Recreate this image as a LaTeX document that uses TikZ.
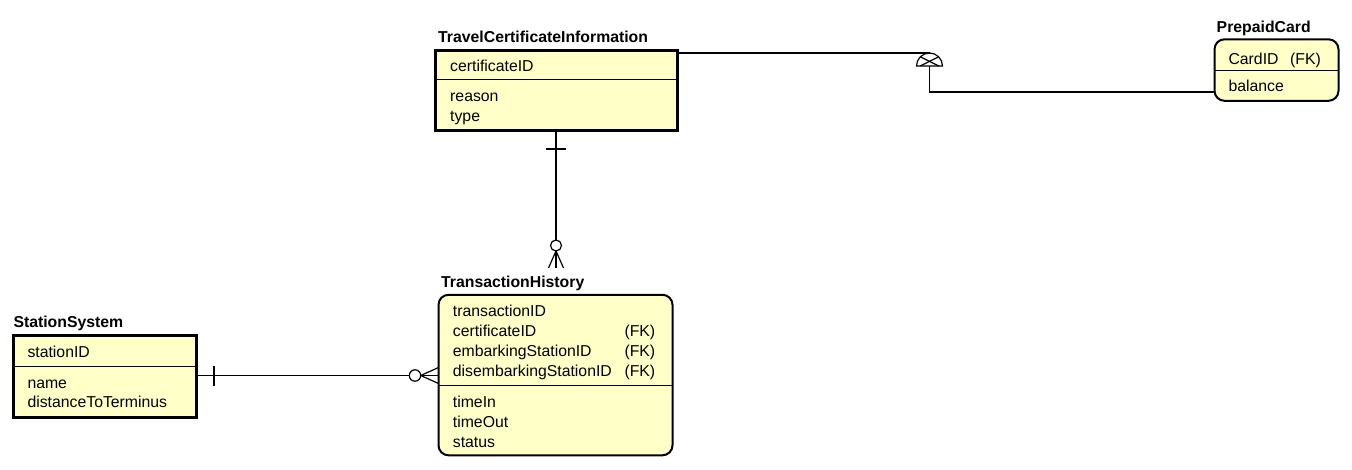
\documentclass[tikz,border=0pt]{standalone}
\usepackage{fontspec}
\setmainfont{Liberation Sans}
\usetikzlibrary{calc}
\definecolor{entfill}{HTML}{FFFFC8}
\newcommand{\erfs}{\fontsize{15.8}{18}\selectfont}
\tikzset{
  ent/.style={draw=black, fill=entfill, anchor=north west, inner sep=0pt, outer sep=0pt},
  entsq/.style={ent, line width=3pt},
  entrd/.style={ent, line width=2pt, rounded corners=10pt},
  attr/.style={anchor=base west, inner sep=0pt, font=\erfs},
  etitle/.style={anchor=base west, inner sep=0pt, font=\erfs\bfseries},
  divline/.style={line width=1pt},
  conn/.style={line width=1.2pt},
}
\begin{document}
\begin{tikzpicture}[x=1pt,y=-1pt]
\useasboundingbox (0,0) rectangle (1352,469);
\fill[white] (0,0) rectangle (1352,469);

% ---------- TravelCertificateInformation ----------
\node[etitle] (tcititle) at (438,42.5) {TravelCertificateInformation};
\node[entsq, minimum width=241.5pt, minimum height=80pt] (tci) at (435.5,50) {};
\coordinate (tcidiv) at (0,79);
\draw[divline] (tci.west |- tcidiv) -- (tci.east |- tcidiv);
\node[attr] (tci1) at (450,71.5) {certificateID};
\node[attr] (tci2) at (450,101.5) {reason};
\node[attr] (tci3) at (450,121) {type};

% ---------- PrepaidCard ----------
\node[etitle] (pctitle) at (1216.5,32.7) {PrepaidCard};
\node[entrd, minimum width=124pt, minimum height=61.5pt] (pc) at (1214.5,39.3) {};
\coordinate (pcdiv) at (0,70.3);
\draw[divline] (pc.west |- pcdiv) -- (pc.east |- pcdiv);
\node[attr] (pc1) at (1228.3,64.3) {CardID};
\node[attr] (pc1fk) at (1290,64.3) {(FK)};
\node[attr] (pc2) at (1228.3,91.7) {balance};

% ---------- TransactionHistory ----------
\node[etitle] (thtitle) at (441,287) {TransactionHistory};
\node[entrd, minimum width=234pt, minimum height=160.5pt] (th) at (438.5,294.8) {};
\coordinate (thdiv) at (0,385.7);
\draw[divline] (th.west |- thdiv) -- (th.east |- thdiv);
\node[attr] (th1) at (452.7,316.7) {transactionID};
\node[attr] (th2) at (452.7,336.5) {certificateID};
\node[attr] (th3) at (452.7,356.3) {embarkingStationID};
\node[attr] (th4) at (452.7,376.1) {disembarkingStationID};
\node[attr] (th2fk) at (624.3,336.5) {(FK)};
\node[attr] (th3fk) at (624.3,356.3) {(FK)};
\node[attr] (th4fk) at (624.3,376.1) {(FK)};
\node[attr] (th5) at (452.7,407.3) {timeIn};
\node[attr] (th6) at (452.7,427.2) {timeOut};
\node[attr] (th7) at (452.7,447) {status};

% ---------- StationSystem ----------
\node[etitle] (sstitle) at (13.3,327) {StationSystem};
\node[entsq, minimum width=182.7pt, minimum height=82pt] (ss) at (13.3,335.7) {};
\coordinate (ssdiv) at (0,366);
\draw[divline] (ss.west |- ssdiv) -- (ss.east |- ssdiv);
\node[attr] (ss1) at (27.3,357.7) {stationID};
\node[attr] (ss2) at (27.3,388.3) {name};
\node[attr] (ss3) at (27.3,407.9) {distanceToTerminus};

% ---------- TCI -- PrepaidCard (subtype) ----------
\coordinate (subc) at (929.5,66);
\coordinate (subtop) at (929.5,53);
\coordinate (subbend) at (929.5,92);
\draw[conn] (tci.east |- subtop) -- (subtop);
\draw[conn] ($(subc)+(-13,0)$) arc (180:360:13) -- cycle;
\draw[conn] ($(subc)+(-9.2,-9.2)$) -- ($(subc)+(9.2,0)$);
\draw[conn] ($(subc)+(9.2,-9.2)$) -- ($(subc)+(-9.2,0)$);
\draw[conn] (subc) -- (subbend) -- (pc.west |- subbend);

% ---------- TCI -- TransactionHistory ----------
\coordinate (vfoot) at (556,268);
\coordinate (vcirc) at (556,245.5);
\draw[conn] (tci.south -| vfoot) -- ($(vcirc)+(0,-5.5)$);
\draw[conn] (546,149) -- (566,149);
\draw[conn] (vcirc) circle (5.5);
\draw[conn] ($(vcirc)+(0,5.5)$) -- ($(vfoot)+(-7.5,0)$);
\draw[conn] ($(vcirc)+(0,5.5)$) -- (vfoot);
\draw[conn] ($(vcirc)+(0,5.5)$) -- ($(vfoot)+(7.5,0)$);

% ---------- StationSystem -- TransactionHistory ----------
\coordinate (hline) at (0,375.5);
\coordinate (hcirc) at (415,375.5);
\draw[conn] (ss.east |- hline) -- ($(hcirc)+(-5.7,0)$);
\draw[conn] (214,365.5) -- (214,385.5);
\draw[conn] (hcirc) circle (5.7);
\draw[conn] ($(hcirc)+(5.7,0)$) -- ($(th.west |- hline)+(0,-8)$);
\draw[conn] ($(hcirc)+(5.7,0)$) -- (th.west |- hline);
\draw[conn] ($(hcirc)+(5.7,0)$) -- ($(th.west |- hline)+(0,8)$);
\end{tikzpicture}
\end{document}
